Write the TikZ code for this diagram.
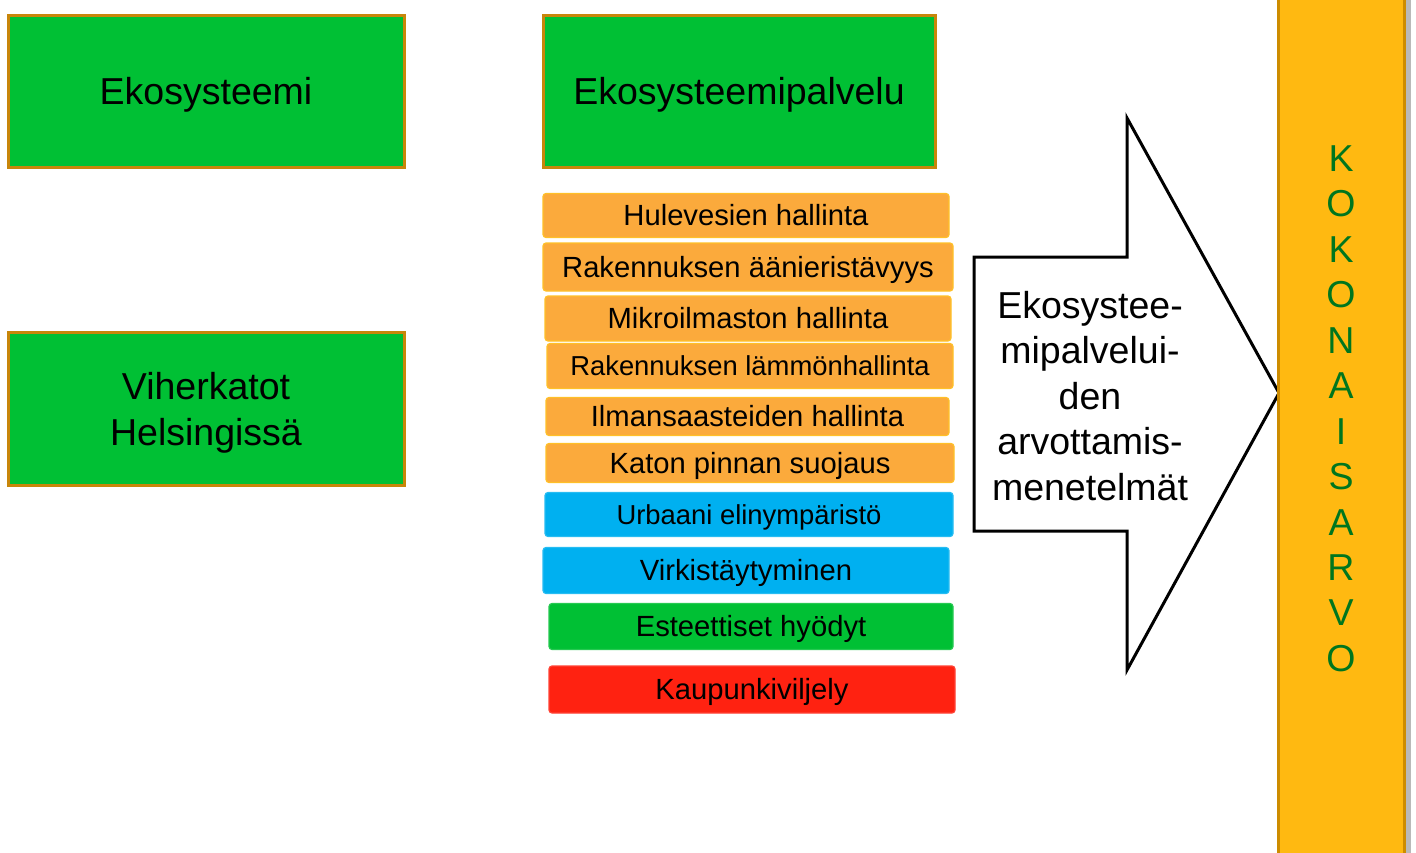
\documentclass[tikz,border=0pt]{standalone}
\usepackage{fontspec}
\setmainfont{Liberation Sans}
\begin{document}
\begin{tikzpicture}[x=0.5pt,y=-0.5pt,
  bigfont/.style={font=\fontsize{18.75pt}{22.75pt}\selectfont},
  smallfont/.style={font=\fontsize{14.6pt}{17pt}\selectfont},
  tinyfont/.style={font=\fontsize{13.7pt}{16pt}\selectfont, text height=9.8pt},
  bigbox/.style={draw=boxedge, line width=1.5pt, fill=grn, inner sep=0pt, bigfont,
    text height=13.4pt, text depth=0pt},
  svc/.style={draw=svcedge, line width=0.6pt, rounded corners=1.5pt, inner sep=0pt,
    smallfont, text height=10.45pt, text depth=0pt, minimum height=#1},
  svc/.default=22pt,
  letter/.style={text=lettergreen, bigfont, inner sep=0pt, text height=13.4pt, text depth=0pt}
]
\definecolor{grn}{RGB}{0,192,52}
\definecolor{boxedge}{RGB}{200,134,10}
\definecolor{svcedge}{RGB}{255,192,40}
\definecolor{orng}{RGB}{251,170,60}
\definecolor{blu}{RGB}{0,176,240}
\definecolor{redd}{RGB}{255,34,17}
\definecolor{tallfill}{RGB}{255,185,17}
\definecolor{talledge}{RGB}{205,140,0}
\definecolor{lettergreen}{RGB}{0,118,30}

\useasboundingbox (0,0) rectangle (1416,852);

% big green boxes
\node[bigbox, minimum width=198pt, minimum height=76pt] (eko) at (206,91) {Ekosysteemi};
\node[bigbox, minimum width=196pt, minimum height=76pt] (ekop) at (739,91) {Ekosysteemipalvelu};
\node[bigbox, minimum width=198pt, minimum height=76.5pt] (vih) at (206,408.5) {};
\node[bigfont, align=center, inner sep=0pt] (vihtxt) at (206,413) {Viherkatot\\Helsingiss\"a};

% service boxes
\node[svc=22pt, fill=orng, minimum width=203pt] (s1) at (746,215.5) {Hulevesien hallinta};
\node[svc=24pt, fill=orng, minimum width=205pt] (s2) at (748,267) {Rakennuksen \"a\"anierist\"avyys};
\node[svc=22.5pt, fill=orng, minimum width=203pt] (s3) at (748,318.5) {Mikroilmaston hallinta};
\node[svc=22.5pt, fill=orng, minimum width=203pt, tinyfont] (s4) at (750,366) {Rakennuksen l\"amm\"onhallinta};
\node[svc=19pt, fill=orng, minimum width=201.5pt] (s5) at (747.5,416.5) {Ilmansaasteiden hallinta};
\node[svc=19.5pt, fill=orng, minimum width=204pt] (s6) at (750,463) {Katon pinnan suojaus};
\node[svc=22pt, fill=blu, draw=blu!85!white, minimum width=204pt, tinyfont] (s7) at (749,514.5) {Urbaani elinymp\"arist\"o};
\node[svc=23pt, fill=blu, draw=blu!85!white, minimum width=203pt] (s8) at (746,570.5) {Virkist\"aytyminen};
\node[svc=23pt, fill=grn, draw=grn!85!white, minimum width=202pt] (s9) at (751,626.5) {Esteettiset hy\"odyt};
\node[svc=23.5pt, fill=redd, draw=redd!85!white, minimum width=203pt] (s10) at (752,689.5) {Kaupunkiviljely};

% block arrow
\draw[line width=1.5pt, fill=white, line join=miter]
  (974,257) -- (1127,257) -- (1127,118) -- (1279,393) -- (1127,670) -- (1127,531) -- (974,531) -- cycle;
\node[bigfont, align=center, inner sep=0pt] (arrtxt) at (1090,396)
  {Ekosystee-\\mipalvelui-\\den\\arvottamis-\\menetelm\"at};

% tall box
\fill[gray!55] (1404,-10) rectangle (1411,862);
\node[draw=talledge, line width=1.5pt, fill=tallfill, minimum width=63pt, minimum height=436pt, inner sep=0pt] (tall) at (1341,426) {};
\foreach \ch [count=\i from 0] in {K,O,K,O,N,A,I,S,A,R,V,O}
  \node[letter] (l\i) at (1341,158+45.45*\i) {\ch};
\end{tikzpicture}
\end{document}
